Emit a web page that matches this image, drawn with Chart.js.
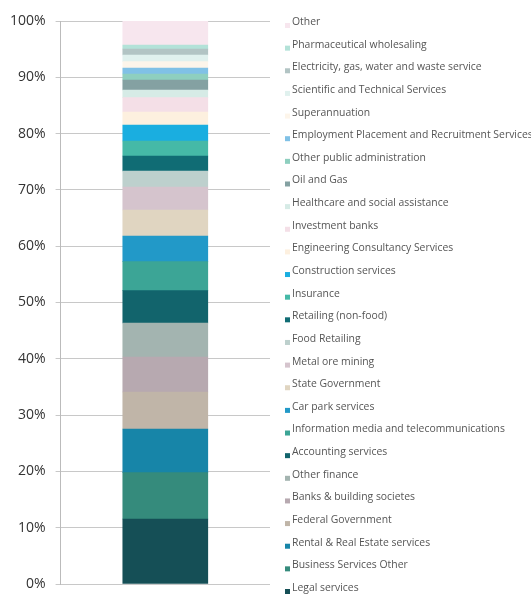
<!DOCTYPE html>
<html>
<head>
<meta charset="utf-8">
<script src="https://cdn.jsdelivr.net/npm/chart.js@4"></script>
<style>
  html, body { margin: 0; padding: 0; background: #fff; }
  #wrap { width: 531px; height: 594px; position: relative; }
</style>
</head>
<body>
<div id="wrap"><canvas id="mixChart"></canvas></div>
<script>
// segments listed bottom to top of the stack
const segmentLabels = [
  'Legal services', 'Business Services Other', 'Rental & Real Estate services',
  'Federal Government', 'Banks & building societes', 'Other finance',
  'Accounting services', 'Information media and telecommunications', 'Car park services',
  'State Government', 'Metal ore mining', 'Food Retailing', 'Retailing (non-food)',
  'Insurance', 'Construction services', 'Engineering Consultancy Services',
  'Investment banks', 'Healthcare and social assistance', 'Oil and Gas',
  'Other public administration', 'Employment Placement and Recruitment Services',
  'Superannuation', 'Scientific and Technical Services',
  'Electricity, gas, water and waste service', 'Pharmaceutical wholesaling', 'Other'
];
const segmentValues = [
  11.55, 8.22, 7.76, 6.57, 6.22, 6.04, 5.74, 5.15, 4.56, 4.62, 4.08, 2.85, 2.66,
  2.67, 2.84, 2.31, 2.54, 1.36, 1.78, 1.07, 1.06, 1.12, 1.19, 1.07, 0.71, 4.26
];
const segmentColors = [
  '#154f56', '#358b7c', '#1785a8', '#c0b5a8', '#b7a9b0', '#a3b4b0',
  '#12646c', '#3ca596', '#2299c8', '#e0d5c1', '#d5c4cd', '#bdd0cd', '#106c74',
  '#45b9a7', '#1aaee0', '#fdf0df', '#f4dfe7', '#d6ebe6', '#84a1a2',
  '#8ecfbf', '#80c1e6', '#fdf5ea', '#e0f1ee', '#b2c4c4', '#b3e2d8', '#f7e6ee'
];
const categories = [''];

const datasets = segmentLabels.map((name, i) => ({
  label: name,
  data: [segmentValues[i]],
  backgroundColor: segmentColors[i],
  borderWidth: 0,
  barThickness: 85
}));

// legend on the right, top item = top of stack
const sideLegend = {
  id: 'sideLegend',
  afterDraw(chart) {
    const ctx = chart.ctx;
    const sets = chart.data.datasets;
    const n = sets.length;
    const top = 22, bottom = 588;
    const step = (bottom - top) / (n - 1);
    ctx.save();
    ctx.font = '10.4px "Open Sans"';
    ctx.textBaseline = 'middle';
    for (let k = 0; k < n; k++) {
      const ds = sets[n - 1 - k];
      const y = top + k * step;
      ctx.fillStyle = ds.backgroundColor;
      ctx.fillRect(285, y + 1, 5, 5);
      ctx.fillStyle = '#555';
      ctx.fillText(ds.label, 292, y);
    }
    ctx.restore();
  }
};

new Chart(document.getElementById('mixChart').getContext('2d'), {
  type: 'bar',
  data: { labels: categories, datasets: datasets },
  options: {
    responsive: true,
    maintainAspectRatio: false,
    animation: false,
    layout: { padding: { top: 21, right: 261, bottom: 10, left: 0 } },
    scales: {
      x: { display: false, stacked: true },
      y: {
        stacked: true,
        min: 0,
        max: 100,
        afterFit: scale => { scale.paddingBottom = 0; scale.paddingTop = 0; },
        ticks: {
          stepSize: 10,
          padding: 10,
          color: '#333',
          font: { family: 'Open Sans', size: 14 },
          callback: v => v + '%'
        },
        grid: { color: '#c8c8c8', tickLength: 5 },
        border: { color: '#bbb' }
      }
    },
    plugins: {
      legend: { display: false },
      tooltip: { enabled: false }
    }
  },
  plugins: [sideLegend]
});
</script>
</body>
</html>
